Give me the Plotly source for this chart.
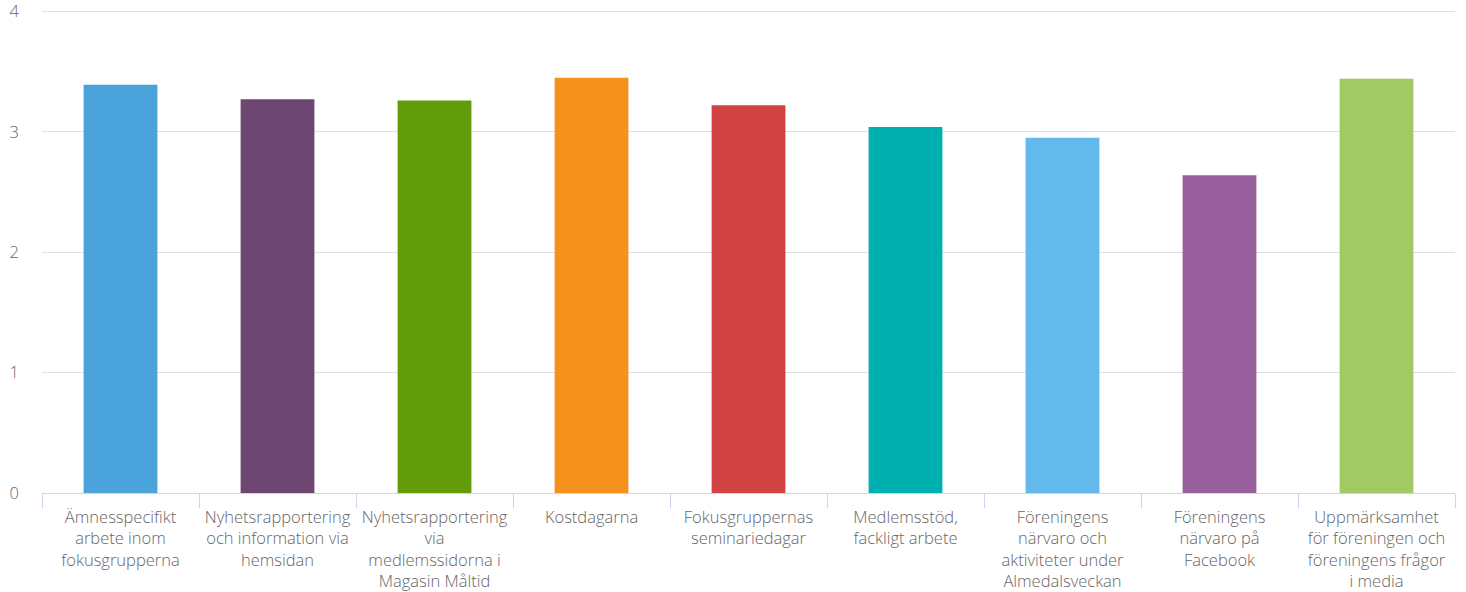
import plotly.graph_objects as go

categories = [
    "Ämnesspecifikt<br>arbete inom<br>fokusgrupperna",
    "Nyhetsrapportering<br>och information via<br>hemsidan",
    "Nyhetsrapportering<br>via<br>medlemssidorna i<br>Magasin Måltid",
    "Kostdagarna",
    "Fokusgruppernas<br>seminariedagar",
    "Medlemsstöd,<br>fackligt arbete",
    "Föreningens<br>närvaro och<br>aktiviteter under<br>Almedalsveckan",
    "Föreningens<br>närvaro på<br>Facebook",
    "Uppmärksamhet<br>för föreningen och<br>föreningens frågor<br>i media",
]
values = [3.39, 3.27, 3.26, 3.45, 3.22, 3.04, 2.95, 2.64, 3.44]
colors = ["#4aa3da", "#6d4671", "#639c0b", "#f5921e", "#d24343",
          "#00afb0", "#63b9eb", "#975f9c", "#a1c964"]
y_ticks = [0, 1, 2, 3, 4]

fig = go.Figure(go.Bar(
    x=categories, y=values, marker=dict(color=colors, line=dict(width=0)),
    width=0.47, hoverinfo="x+y",
))

font = dict(family="Open Sans", size=16.5, color="#666666", weight=300)

fig.update_layout(
    width=1466, height=592,
    margin=dict(l=42, r=11, t=9, b=99),
    plot_bgcolor="white", paper_bgcolor="white",
    showlegend=False,
    font=font,
    xaxis=dict(
        showgrid=False, showline=True, linecolor="#ccd6eb", linewidth=1,
        ticks="outside", tickson="boundaries", ticklen=14, tickcolor="#ccd6eb",
        tickfont=font, tickangle=0, fixedrange=True, automargin=False,
        ticklabelstandoff=9,
    ),
    yaxis=dict(
        range=[0, 4.02], tickvals=y_ticks, showgrid=True, gridcolor="#e0e0e0",
        gridwidth=1, zeroline=False, showline=False, tickfont=font,
        ticklabelstandoff=22, fixedrange=True, automargin=False,
        ticklabeloverflow="allow",
    ),
)

fig.write_html(
    "out.html",
    config={"displayModeBar": False},
    post_script="document.body.style.margin='0';",
)
